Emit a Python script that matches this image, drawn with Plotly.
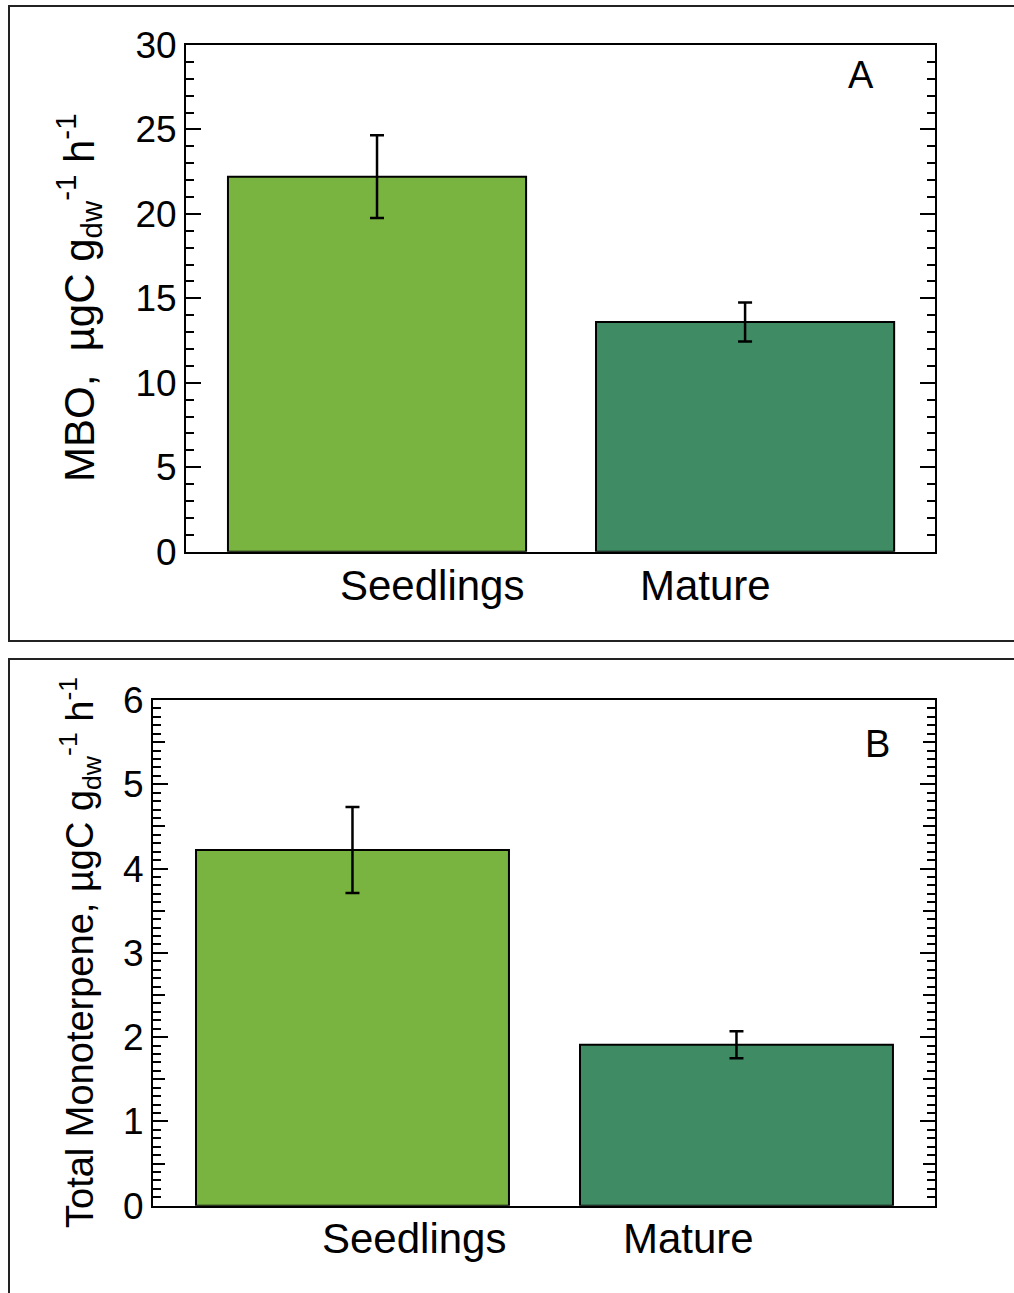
import plotly.graph_objects as go

# ---- data ----
categories = ["Seedlings", "Mature"]
mbo_values = [22.2, 13.6]
mbo_errors = [2.45, 1.15]
mono_values = [4.22, 1.91]
mono_errors = [0.51, 0.16]
bar_colors = ["#79B340", "#3F8C64"]
panel_letters = ["A", "B"]
title_a = "MBO,  \u00b5gC g<sub>dw</sub><sup>-1</sup> h<sup>-1</sup>"
title_b = "Total Monoterpene, \u00b5gC g<sub>dw</sub><sup>-1</sup> h<sup>-1</sup>"

W, H = 1014, 1293
FONT = "Arial, Liberation Sans, sans-serif"

fig = go.Figure()

for vals, errs, xa, ya, bw in [(mbo_values, mbo_errors, "x", "y", 0.81),
                               (mono_values, mono_errors, "x2", "y2", 0.815)]:
    fig.add_trace(go.Bar(
        x=categories, y=vals, xaxis=xa, yaxis=ya,
        marker=dict(color=bar_colors, line=dict(color="black", width=2)),
        width=bw,
        error_y=dict(type="data", array=errs, color="black", thickness=2.5, width=7),
        showlegend=False,
    ))

# invisible trace to activate the medium-tick axis of panel B
fig.add_trace(go.Scatter(x=categories, y=mono_values, xaxis="x2", yaxis="y3",
                         mode="markers", marker=dict(opacity=0), showlegend=False,
                         hoverinfo="skip"))

axis_common = dict(showline=True, linecolor="black", linewidth=2, showgrid=False,
                   zeroline=False, automargin=False)

fig.update_layout(
    width=W, height=H,
    margin=dict(l=0, r=0, t=0, b=0, autoexpand=False),
    plot_bgcolor="white", paper_bgcolor="white",
    font=dict(family=FONT, color="black"),
    xaxis=dict(domain=[186 / W, 935 / W], anchor="y", range=[-0.519, 1.516],
               showticklabels=False, ticks="", mirror=True, **axis_common),
    yaxis=dict(domain=[1 - 551.7 / H, 1 - 45 / H], anchor="x", range=[0, 30],
               tick0=0, dtick=5, ticks="inside", ticklen=15, tickwidth=2,
               tickcolor="black", mirror="ticks",
               minor=dict(dtick=1, ticks="inside", ticklen=8, tickwidth=2,
                          tickcolor="black"),
               tickfont=dict(size=37, family=FONT), **axis_common),
    xaxis2=dict(domain=[153 / W, 935 / W], anchor="y2", range=[-0.5195, 1.517],
                showticklabels=False, ticks="", mirror=True, **axis_common),
    yaxis2=dict(domain=[1 - 1205.7 / H, 1 - 700 / H], anchor="x2", range=[0, 6],
                tick0=0, dtick=1, ticks="inside", ticklen=15, tickwidth=2,
                tickcolor="black", mirror="ticks",
                minor=dict(dtick=0.1, ticks="inside", ticklen=8, tickwidth=2,
                           tickcolor="black"),
                tickfont=dict(size=37, family=FONT), **axis_common),
    yaxis3=dict(overlaying="y2", anchor="x2", range=[0, 6], tick0=0.5, dtick=1,
                ticks="inside", ticklen=12, tickwidth=2, tickcolor="black",
                mirror="ticks", showline=False, showgrid=False, zeroline=False,
                showticklabels=False, automargin=False),
)

annotations = []
# category labels under the bars
for xa, shifts, yshift in [("x", [55, -40], -34), ("x2", [62, -48], -33)]:
    ya = "y" if xa == "x" else "y2"
    for cat, s in zip(categories, shifts):
        annotations.append(dict(x=cat, xref=xa, y=0, yref=ya + " domain",
                                text=cat, showarrow=False, xshift=s, yshift=yshift,
                                yanchor="middle", xanchor="center",
                                font=dict(size=42, family=FONT, color="black")))
# panel letters
annotations.append(dict(x=861 / W, y=1 - 75 / H, xref="paper", yref="paper",
                        text=panel_letters[0], showarrow=False,
                        xanchor="center", yanchor="middle",
                        font=dict(size=38, family=FONT, color="black")))
annotations.append(dict(x=877 / W, y=1 - 744 / H, xref="paper", yref="paper",
                        text=panel_letters[1], showarrow=False,
                        xanchor="center", yanchor="middle",
                        font=dict(size=38, family=FONT, color="black")))
# y titles
annotations.append(dict(x=78 / W, y=1 - 298 / H, xref="paper", yref="paper",
                        text=title_a, textangle=-90, showarrow=False,
                        xanchor="center", yanchor="middle",
                        font=dict(size=42, family=FONT, color="black")))
annotations.append(dict(x=80 / W, y=1 - 953 / H, xref="paper", yref="paper",
                        text=title_b, textangle=-90, showarrow=False,
                        xanchor="center", yanchor="middle",
                        font=dict(size=38, family=FONT, color="black")))
fig.update_layout(annotations=annotations)

# outer panel frames
fig.add_shape(type="rect", xref="paper", yref="paper",
              x0=9 / W, x1=1.02, y0=1 - 641 / H, y1=1 - 6 / H,
              line=dict(color="#222222", width=2), fillcolor="rgba(0,0,0,0)", layer="below")
fig.add_shape(type="rect", xref="paper", yref="paper",
              x0=9 / W, x1=1.02, y0=-0.02, y1=1 - 659 / H,
              line=dict(color="#222222", width=2), fillcolor="rgba(0,0,0,0)", layer="below")

fig.write_html("out.html")
